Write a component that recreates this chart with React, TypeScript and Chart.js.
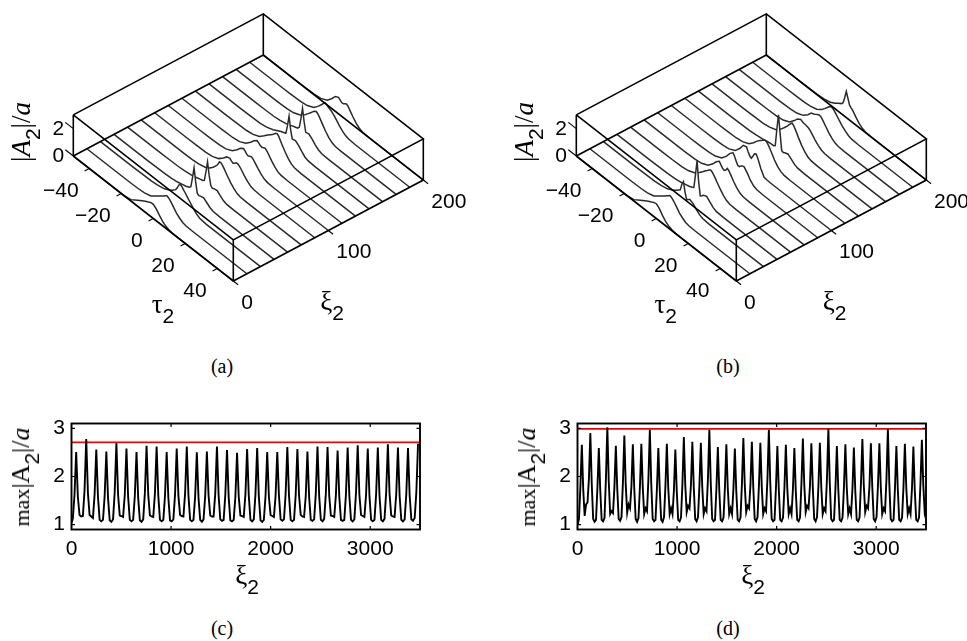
import React, { useEffect, useRef } from "react";
import { Chart, registerables } from "chart.js";

Chart.register(...registerables);

/* ---------- waterfall data ---------- */
const tauGrid = [-50, -30, -24, -18, -14, -10, -7, -5, -3, -2, -1, 0, 1, 2, 3, 4, 6, 8, 10, 12, 16, 50];
const xiSlices = [0, 14.3, 28.6, 42.9, 57.1, 71.4, 85.7, 100, 114.3, 128.6, 142.9, 157.1, 171.4, 185.7, 200];
const tauTicks = [-40, -20, 0, 20, 40];
const xiTicks3d = [0, 100, 200];
const ampTicks3d = [0, 2];

const profilesA = [
  [0, 0, 0, 0, .1, .42, .66, .8, .93, 1.0, 1.03, 1.03, .95, .85, .7, .55, .3, .14, .05, .01, 0, 0],
  [0, 0, 0, .02, .07, .2, .48, .66, .85, .94, 1.04, 1.13, 1.08, .98, .85, .7, .42, .22, .08, .02, 0, 0],
  [0, 0, .01, .03, .08, .2, .38, .55, .78, 1.0, 1.3, 1.43, 1.35, 1.2, 1.08, .95, .68, .42, .2, .06, 0, 0],
  [0, 0, .01, .03, .07, .15, .25, .32, .42, .55, 1.3, 2.12, 1.2, .45, .36, .42, .47, .3, .12, .02, 0, 0],
  [0, 0, .01, .03, .07, .15, .25, .33, .4, .5, 1.2, 2.02, 1.15, .5, .37, .44, .48, .28, .1, .02, 0, 0],
  [0, 0, .01, .03, .08, .2, .42, .65, .95, 1.15, 1.42, 1.42, 1.3, 1.15, .98, .82, .52, .28, .1, .03, 0, 0],
  [0, 0, .01, .03, .1, .3, .62, .88, .96, .85, .78, .88, 1.0, 1.0, .92, .8, .52, .28, .1, .03, 0, 0],
  [0, 0, .01, .04, .12, .35, .7, .98, 1.15, 1.05, .92, .88, .95, 1.0, .92, .8, .52, .28, .1, .03, 0, 0],
  [0, 0, .01, .04, .12, .36, .72, 1.0, 1.2, 1.12, 1.02, .98, 1.05, 1.1, 1.02, .88, .56, .3, .1, .03, 0, 0],
  [0, 0, .01, .04, .12, .34, .66, .9, 1.1, 1.2, 1.33, 1.48, 1.55, 1.45, 1.25, 1.05, .68, .36, .14, .04, 0, 0],
  [0, 0, .01, .04, .12, .3, .5, .62, .72, .77, 1.4, 2.2, 1.3, .72, .75, .78, .6, .34, .12, .03, 0, 0],
  [0, 0, .01, .03, .09, .2, .35, .45, .53, .7, 1.4, 2.25, 1.35, .68, .72, .74, .55, .3, .12, .03, 0, 0],
  [0, 0, .01, .04, .12, .32, .62, .88, 1.15, 1.3, 1.42, 1.5, 1.42, 1.28, 1.1, .92, .58, .3, .12, .03, 0, 0],
  [0, 0, .01, .04, .12, .34, .72, 1.02, 1.34, 1.3, 1.22, 1.15, 1.1, 1.0, .88, .75, .48, .26, .1, .03, 0, 0],
  [0, 0, .01, .04, .12, .35, .75, 1.08, 1.2, 1.1, 1.0, 1.0, 1.1, 1.17, 1.08, .92, .6, .32, .13, .04, 0, 0],
];

const profilesB = [
  [0, 0, 0, 0, .1, .42, .66, .8, .93, 1.0, 1.05, 1.08, 1.0, .88, .72, .55, .3, .14, .05, .01, 0, 0],
  [0, 0, 0, .02, .07, .2, .48, .66, .85, .95, 1.05, 1.15, 1.1, 1.0, .88, .72, .42, .22, .08, .02, 0, 0],
  [0, 0, .01, .03, .08, .2, .38, .55, .75, .85, 1.35, 1.63, .95, .5, .6, .7, .58, .35, .14, .04, 0, 0],
  [0, 0, .01, .03, .07, .15, .25, .32, .42, .5, 1.5, 2.63, 1.2, .25, .35, .48, .58, .36, .14, .03, 0, 0],
  [0, 0, .01, .04, .12, .32, .62, .85, 1.1, 1.22, 1.35, 1.44, 1.38, 1.25, 1.1, .92, .6, .32, .12, .03, 0, 0],
  [0, 0, .01, .04, .12, .34, .72, 1.05, 1.27, 1.1, .95, .88, 1.0, 1.2, 1.12, .95, .6, .32, .12, .03, 0, 0],
  [0, 0, .01, .04, .12, .34, .75, 1.12, 1.38, 1.2, .95, .72, .72, .85, .95, .98, .7, .35, .12, .03, 0, 0],
  [0, 0, .01, .04, .12, .36, .8, 1.2, 1.28, 1.0, .8, .72, .95, 1.22, 1.3, 1.1, .5, .05, .02, 0, 0, 0],
  [0, 0, .01, .04, .12, .34, .68, .98, 1.2, 1.3, 1.42, 1.5, 1.48, 1.36, 1.2, 1.0, .6, .3, .12, .03, 0, 0],
  [0, 0, .01, .03, .08, .16, .24, .28, .3, .4, 1.7, 2.83, 1.6, .4, .35, .42, .5, .32, .12, .03, 0, 0],
  [0, 0, .01, .04, .12, .3, .62, .9, 1.2, 1.38, 1.55, 1.7, 1.6, 1.42, 1.22, 1.0, .62, .32, .12, .03, 0, 0],
  [0, 0, .01, .04, .12, .34, .72, 1.02, 1.16, 1.1, 1.05, 1.05, 1.02, .98, .88, .75, .48, .26, .1, .03, 0, 0],
  [0, 0, .01, .04, .1, .3, .62, .92, 1.02, 1.1, 1.18, 1.24, 1.22, 1.1, .95, .8, .5, .26, .1, .03, 0, 0],
  [0, 0, .01, .03, .08, .22, .48, .72, 1.0, 1.15, 1.22, 1.2, 1.1, .98, .84, .7, .45, .24, .09, .02, 0, 0],
  [0, 0, .01, .03, .08, .2, .4, .58, .74, .9, 1.35, 1.9, 1.5, 1.1, .98, .88, .58, .3, .12, .03, 0, 0],
];

/* ---------- max-amplitude data: six samples per pulse ---------- */
const xiStartC = -3.5;
const xiStepC = 16.83;
const maxAmpC = [
  1.02, 1.12, 1.62, 2.51, 1.58, 1.2,
  1.17, 1.18, 1.72, 2.78, 1.66, 1.2,
  1.17, 1.14, 1.63, 2.56, 1.58, 1.1,
  1.07, 1.1, 1.6, 2.52, 1.56, 1.09,
  1.06, 1.11, 1.68, 2.69, 1.62, 1.19,
  1.18, 1.16, 1.62, 2.58, 1.58, 1.1,
  1.07, 1.1, 1.6, 2.51, 1.56, 1.09,
  1.06, 1.11, 1.66, 2.64, 1.62, 1.19,
  1.17, 1.16, 1.65, 2.62, 1.6, 1.1,
  1.07, 1.1, 1.6, 2.51, 1.56, 1.09,
  1.07, 1.11, 1.63, 2.58, 1.6, 1.2,
  1.18, 1.17, 1.65, 2.62, 1.6, 1.1,
  1.07, 1.1, 1.59, 2.5, 1.56, 1.1,
  1.06, 1.11, 1.6, 2.52, 1.6, 1.19,
  1.17, 1.17, 1.65, 2.62, 1.6, 1.11,
  1.08, 1.1, 1.62, 2.55, 1.57, 1.09,
  1.07, 1.1, 1.58, 2.49, 1.58, 1.19,
  1.18, 1.16, 1.63, 2.57, 1.6, 1.1,
  1.07, 1.11, 1.64, 2.59, 1.58, 1.09,
  1.06, 1.1, 1.6, 2.51, 1.58, 1.2,
  1.18, 1.16, 1.6, 2.51, 1.6, 1.11,
  1.08, 1.11, 1.65, 2.61, 1.6, 1.1,
  1.07, 1.1, 1.62, 2.57, 1.6, 1.2,
  1.17, 1.16, 1.6, 2.52, 1.58, 1.1,
  1.08, 1.11, 1.65, 2.62, 1.6, 1.1,
  1.07, 1.12, 1.65, 2.61, 1.6, 1.19,
  1.18, 1.16, 1.62, 2.54, 1.58, 1.1,
  1.08, 1.1, 1.64, 2.6, 1.6, 1.1,
  1.07, 1.11, 1.67, 2.65, 1.62, 1.2,
  1.18, 1.16, 1.63, 2.58, 1.6, 1.1,
  1.07, 1.1, 1.64, 2.6, 1.6, 1.1,
  1.07, 1.12, 1.68, 2.67, 1.64, 1.19,
  1.17, 1.16, 1.64, 2.6, 1.6, 1.1,
  1.07, 1.11, 1.64, 2.59, 1.6, 1.11,
  1.08, 1.14, 1.68, 2.68,
];

const xiStartD = 0.8;
const xiStepD = 14.23;
const maxAmpD = [
  1.0, 1.12, 1.8, 2.66, 1.72, 1.18,
  1.42, 1.46, 1.95, 2.9, 1.85, 1.12,
  1.06, 1.1, 1.76, 2.59, 1.72, 1.1,
  1.07, 1.14, 1.95, 3.02, 1.9, 1.22,
  1.28, 1.24, 1.78, 2.64, 1.75, 1.12,
  1.08, 1.16, 1.88, 2.85, 1.82, 1.25,
  1.42, 1.34, 1.8, 2.67, 1.75, 1.12,
  1.06, 1.14, 1.78, 2.68, 1.78, 1.22,
  1.34, 1.28, 1.95, 2.97, 1.85, 1.12,
  1.07, 1.1, 1.75, 2.59, 1.72, 1.1,
  1.06, 1.16, 1.8, 2.68, 1.76, 1.22,
  1.34, 1.22, 1.72, 2.56, 1.7, 1.1,
  1.07, 1.15, 1.85, 2.82, 1.82, 1.26,
  1.39, 1.34, 1.82, 2.72, 1.78, 1.12,
  1.07, 1.16, 1.82, 2.7, 1.78, 1.22,
  1.34, 1.28, 1.95, 2.97, 1.86, 1.12,
  1.07, 1.1, 1.76, 2.61, 1.72, 1.1,
  1.07, 1.15, 1.78, 2.67, 1.76, 1.22,
  1.34, 1.22, 1.75, 2.58, 1.7, 1.1,
  1.07, 1.15, 1.86, 2.8, 1.82, 1.26,
  1.39, 1.34, 1.82, 2.72, 1.78, 1.12,
  1.07, 1.16, 1.82, 2.7, 1.78, 1.22,
  1.34, 1.28, 1.95, 2.97, 1.86, 1.12,
  1.07, 1.1, 1.76, 2.63, 1.74, 1.1,
  1.07, 1.15, 1.78, 2.66, 1.76, 1.22,
  1.34, 1.22, 1.75, 2.59, 1.7, 1.1,
  1.07, 1.15, 1.86, 2.79, 1.82, 1.26,
  1.39, 1.34, 1.8, 2.69, 1.78, 1.12,
  1.07, 1.16, 1.82, 2.7, 1.78, 1.22,
  1.34, 1.28, 1.95, 2.99, 1.86, 1.12,
  1.07, 1.1, 1.76, 2.63, 1.74, 1.1,
  1.07, 1.15, 1.78, 2.67, 1.76, 1.22,
  1.34, 1.22, 1.75, 2.6, 1.7, 1.1,
  1.07, 1.15, 1.86, 2.78, 1.82, 1.26,
  1.39, 1.34, 1.8, 2.69, 1.78, 1.12,
  1.07, 1.16, 1.82, 2.69, 1.78, 1.22,
  1.34, 1.28, 1.95, 2.99, 1.86, 1.12,
  1.07, 1.1, 1.76, 2.63, 1.74, 1.1,
  1.07, 1.15, 1.78, 2.68, 1.76, 1.22,
  1.34, 1.22, 1.75, 2.62, 1.7, 1.1,
  1.07, 1.15, 1.86, 2.76, 1.82, 1.26,
  1.38, 1.3,
];

const redLevelC = 2.71;
const redLevelD = 2.99;
const xiTicks2d = [0, 1000, 2000, 3000];
const ampTicks2d = [1, 2, 3];

/* ---------- projection of the 3-D box ---------- */
const SANS = '"Liberation Sans", Arial, sans-serif';
const SERIF = '"Liberation Serif", "Times New Roman", serif';
const TICK_PX = 21;
const ORIGIN = { x: 73.3, y: 156 };
const project = (xi: number, tau: number, amp: number) => ({
  x: ORIGIN.x + xi * 0.95 + (tau + 50) * 1.6,
  y: ORIGIN.y - xi * 0.505 + (tau + 50) * 1.25 - amp * 13.7,
});
const PANEL_B_DX = 502.7;

const segment = (points: { x: number; y: number }[], width = 1.6) => ({
  data: points,
  showLine: true,
  pointRadius: 0,
  borderColor: "#000",
  borderWidth: width,
  tension: 0,
  order: 0,
});

const boxDatasets = () => {
  const p = project;
  const out: any[] = [];
  for (const amp of [0, 3]) {
    out.push(segment([p(0, -50, amp), p(0, 50, amp), p(200, 50, amp), p(200, -50, amp), p(0, -50, amp)]));
  }
  for (const [xi, tau] of [[0, -50], [0, 50], [200, 50], [200, -50]]) {
    out.push(segment([p(xi, tau, 0), p(xi, tau, 3)]));
  }
  for (const t of tauTicks) out.push(segment([p(0, t, 0), p(-5, t, 0)], 1.1));
  for (const x of xiTicks3d) out.push(segment([p(x, 50, 0), p(x, 53, 0)], 1.1));
  for (const a of ampTicks3d) out.push(segment([p(0, -50, a), p(0, -55, a)], 1.1));
  return out;
};

function Waterfall({ left, width, profiles }: { left: number; width: number; profiles: number[][] }) {
  const ref = useRef<HTMLCanvasElement>(null);
  useEffect(() => {
    // Floor traces come first so each curtain can fill down to its own floor line.
    const floorSets = profiles.map((row, k) => ({
      data: row.map((_, i) => project(xiSlices[k], tauGrid[i], 0)),
      showLine: true,
      pointRadius: 0,
      borderColor: "rgba(0,0,0,0)",
      borderWidth: 0,
      order: 500,
    }));
    const sliceSets = profiles.map((row, k) => ({
      data: row.map((amp, i) => project(xiSlices[k], tauGrid[i], amp)),
      showLine: true,
      pointRadius: 0,
      borderColor: "#2a2a2a",
      borderWidth: 1.5,
      tension: 0,
      fill: { target: k, above: "#fff", below: "#fff" },
      backgroundColor: "#fff",
      order: 1 + k,
    }));
    const chart = new Chart(ref.current!, {
      type: "scatter",
      data: { datasets: [...floorSets, ...sliceSets, ...boxDatasets()] },
      options: {
        animation: false,
        responsive: false,
        events: [],
        layout: { padding: 0 },
        plugins: { legend: { display: false }, tooltip: { enabled: false }, filler: { drawTime: "beforeDatasetDraw", propagate: false } },
        scales: {
          x: { type: "linear", display: false, min: 0, max: width },
          y: { type: "linear", display: false, min: 0, max: 340, reverse: true },
        },
      },
    } as any);
    return () => chart.destroy();
  }, []);
  return <canvas ref={ref} width={width} height={340} style={{ position: "absolute", left, top: 0 }} />;
}

const frameTicks = {
  id: "frameTicks",
  afterDatasetsDraw(chart: any) {
    const { ctx, chartArea: a, scales } = chart;
    ctx.save();
    ctx.strokeStyle = "#000";
    ctx.lineWidth = 1.2;
    ctx.beginPath();
    for (const t of scales.x.ticks) {
      const px = scales.x.getPixelForValue(t.value);
      ctx.moveTo(px, a.bottom);
      ctx.lineTo(px, a.bottom - 3.5);
      ctx.moveTo(px, a.top);
      ctx.lineTo(px, a.top + 3.5);
    }
    for (const t of scales.y.ticks) {
      const py = scales.y.getPixelForValue(t.value);
      ctx.moveTo(a.left, py);
      ctx.lineTo(a.left + 3.5, py);
      ctx.moveTo(a.right, py);
      ctx.lineTo(a.right - 3.5, py);
    }
    ctx.stroke();
    ctx.lineWidth = 1.9;
    ctx.strokeRect(a.left, a.top, a.right - a.left, a.bottom - a.top);
    ctx.restore();
  },
};

function MaxPlot({ left, amp, start, step, red }: { left: number; amp: number[]; start: number; step: number; red: number }) {
  const ref = useRef<HTMLCanvasElement>(null);
  useEffect(() => {
    const tickFont = { family: SANS, size: TICK_PX };
    const chart = new Chart(ref.current!, {
      type: "scatter",
      data: {
        datasets: [
          {
            data: amp.map((v, i) => ({ x: start + i * step, y: v })),
            showLine: true,
            pointRadius: 0,
            borderColor: "#000",
            borderWidth: 1.9,
            tension: 0,
          },
          {
            data: [{ x: 0, y: red }, { x: 3500, y: red }],
            showLine: true,
            pointRadius: 0,
            borderColor: "#f00000",
            borderWidth: 1.7,
          },
        ],
      },
      options: {
        animation: false,
        responsive: false,
        events: [],
        layout: { padding: { left: 0, right: 60, top: 23.5, bottom: 0 } },
        plugins: { legend: { display: false }, tooltip: { enabled: false } },
        scales: {
          x: {
            type: "linear",
            min: 0,
            max: 3500,
            grid: { display: false, drawTicks: false },
            border: { display: false },
            afterFit: (s: any) => { s.height = 30.5; },
            afterBuildTicks: (s: any) => { s.ticks = xiTicks2d.map((value) => ({ value })); },
            ticks: { color: "#000", font: tickFont, padding: 7, maxRotation: 0, autoSkip: false, callback: (v: any) => String(v) },
          },
          y: {
            type: "linear",
            min: 0.9,
            max: 3.1,
            grid: { display: false, drawTicks: false },
            border: { display: false },
            afterFit: (s: any) => { s.width = 71.5; },
            afterBuildTicks: (s: any) => { s.ticks = ampTicks2d.map((value) => ({ value })); },
            ticks: { color: "#000", font: tickFont, padding: 6.5, callback: (v: any) => String(v) },
          },
        },
      },
      plugins: [frameTicks],
    } as any);
    return () => chart.destroy();
  }, []);
  return <canvas ref={ref} width={480} height={160} style={{ position: "absolute", left, top: 400 }} />;
}

const Text = ({ x, y, tx = "-50%", rotate = false, style, children }: any) => (
  <div
    style={{
      position: "absolute",
      left: x,
      top: y,
      transform: `translate(${tx},-50%)${rotate ? " rotate(-90deg)" : ""}`,
      whiteSpace: "nowrap",
      lineHeight: 1,
      color: "#000",
      ...style,
    }}
  >
    {children}
  </div>
);

const Sub = ({ children, size = 21, drop = 10 }: any) => (
  <span style={{ fontFamily: SANS, fontSize: size, position: "relative", top: drop, fontStyle: "normal" }}>{children}</span>
);

const sansTick = { fontFamily: SANS, fontSize: TICK_PX };
const serif = { fontFamily: SERIF, fontSize: 27 };

function Labels3d({ dx }: { dx: number }) {
  return (
    <>
      {tauTicks.map((t) => {
        const p = project(0, t, 0);
        return (
          <Text key={`t${t}`} x={p.x + dx - 10.6} y={p.y + 20} tx="-100%" style={sansTick}>
            {t < 0 ? `\u2212${-t}` : t}
          </Text>
        );
      })}
      {xiTicks3d.map((v) => {
        const p = project(v, 50, 0);
        return (
          <Text key={`x${v}`} x={p.x + dx + 8} y={p.y + 19.5} tx="0" style={sansTick}>
            {v}
          </Text>
        );
      })}
      {ampTicks3d.map((a) => {
        const p = project(0, -50, a);
        return (
          <Text key={`a${a}`} x={p.x + dx - 9} y={p.y - 2} tx="-100%" style={sansTick}>
            {a}
          </Text>
        );
      })}
      <Text x={dx + 163} y={304} style={serif}>τ<Sub>2</Sub></Text>
      <Text x={dx + 332} y={301} style={serif}>ξ<Sub>2</Sub></Text>
      <Text x={dx + 21} y={132} rotate style={serif}>
        |<i>A</i><Sub>2</Sub>|/<i>a</i>
      </Text>
    </>
  );
}

const MaxLabel = () => (
  <>
    <span style={{ fontSize: 22 }}>max</span>|A<Sub>2</Sub>|/<i>a</i>
  </>
);

export default function App() {
  return (
    <div style={{ position: "absolute", left: 0, top: 0, width: 967, height: 641, overflow: "hidden", background: "#fff" }}>
      <Waterfall left={0} width={480} profiles={profilesA} />
      <Waterfall left={PANEL_B_DX} width={464} profiles={profilesB} />
      <MaxPlot left={0} amp={maxAmpC} start={xiStartC} step={xiStepC} red={redLevelC} />
      <MaxPlot left={506.2} amp={maxAmpD} start={xiStartD} step={xiStepD} red={redLevelD} />
      <Labels3d dx={0} />
      <Labels3d dx={PANEL_B_DX} />
      <Text x={222} y={366} style={{ ...serif, fontSize: 20 }}>(a)</Text>
      <Text x={728} y={366} style={{ ...serif, fontSize: 20 }}>(b)</Text>
      <Text x={222} y={628} style={{ ...serif, fontSize: 20 }}>(c)</Text>
      <Text x={728} y={628} style={{ ...serif, fontSize: 20 }}>(d)</Text>
      <Text x={21} y={477} rotate style={{ ...serif, fontSize: 26 }}><MaxLabel /></Text>
      <Text x={527} y={477} rotate style={{ ...serif, fontSize: 26 }}><MaxLabel /></Text>
      <Text x={247} y={575} style={serif}>ξ<Sub>2</Sub></Text>
      <Text x={753} y={575} style={serif}>ξ<Sub>2</Sub></Text>
    </div>
  );
}
